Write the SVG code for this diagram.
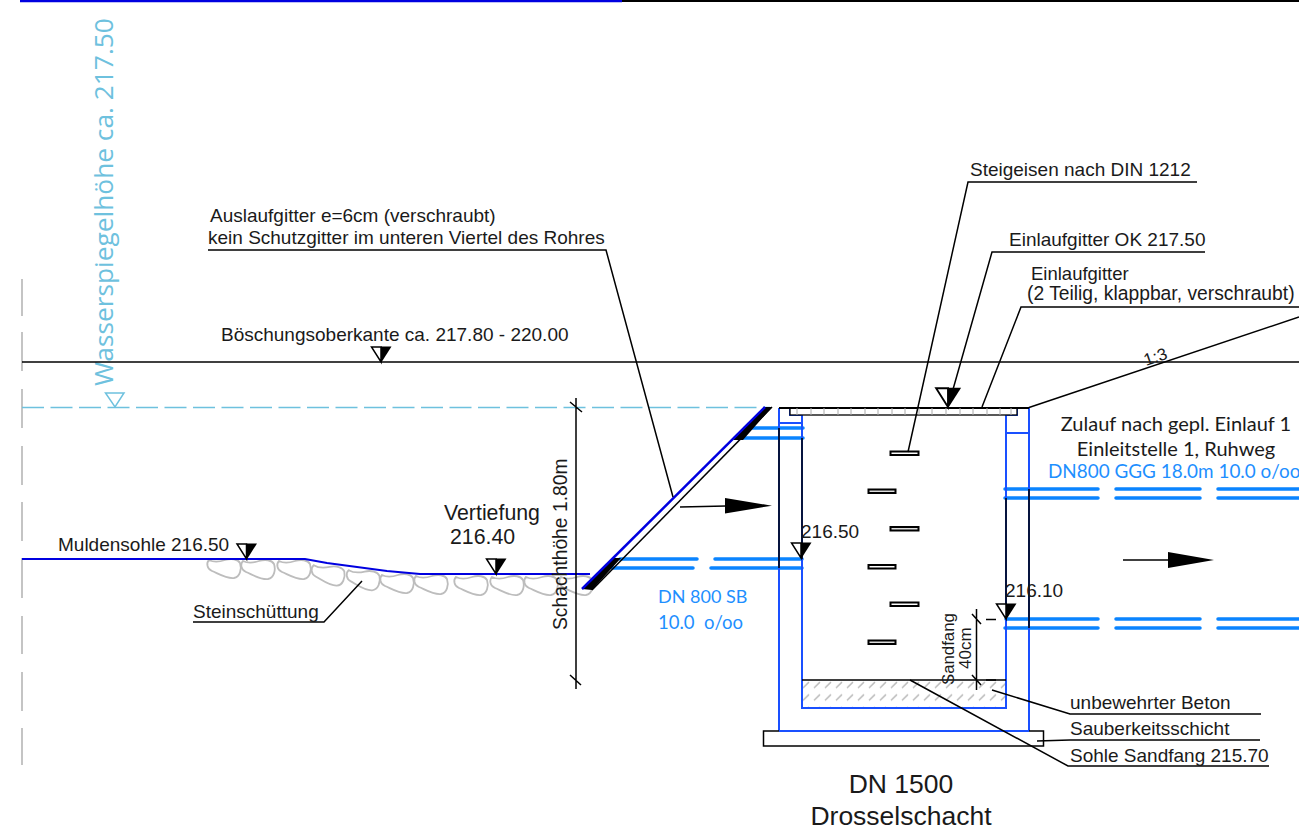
<svg xmlns="http://www.w3.org/2000/svg" width="1299" height="833" viewBox="0 0 1299 833">
<style>
text{font-family:"Liberation Sans",Arial,sans-serif;fill:#1a1a1a}
.l{font-family:Lato,"Noto Sans",sans-serif}
.pt{fill:#1e8fff}
.s{fill:none;stroke:#000;stroke-width:1.5}
.w{fill:none;stroke:#1a50ff;stroke-width:2}
.p{fill:none;stroke:#0a84ff;stroke-width:3.5;stroke-linecap:round}
.r{fill:#ddd;stroke:#000;stroke-width:2}
.st{fill:#fff;stroke:#bdbdbd;stroke-width:1.8}
.wh{fill:#fff;stroke:#000;stroke-width:1.5}
</style>
<defs>
<path id="stone" class="st" d="M2,2 C6,4 12,4 18,2 C24,0 31,1 33,5 C35,11 33,19 27,20 C20,21 12,16 5,13 C0,11 -1,5 2,2Z"/>
<g id="lvl"><path class="wh" d="M-9.500,-15 H0 V0Z"/><path d="M0,-15.500 H10.500 L0,1Z" fill="#000"/></g>
<pattern id="hatch" width="11" height="12.500" patternUnits="userSpaceOnUse" patternTransform="translate(802,680)"><path d="M1,8 L7,2" stroke="#bbb" stroke-width="1.500"/></pattern>
</defs>

<g id="frame">
<path d="M20,1 H622" stroke="#0000e0" stroke-width="2.500"/>
<path d="M622,1 H1299" stroke="#000" stroke-width="2"/>
<path d="M22,279V316M22,332V371M22,389V428M22,446V485M22,502V541M22,558V598M22,616V654M22,672V711M22,728V765" stroke="#c4c4c4" stroke-width="2" fill="none"/>
</g>

<g id="stones">
<use href="#stone" x="207" y="558"/>
<use href="#stone" x="241" y="559"/>
<use href="#stone" x="277" y="559"/>
<use href="#stone" transform="translate(312,563) rotate(6)"/>
<use href="#stone" transform="translate(347,568) rotate(5)"/>
<use href="#stone" transform="translate(380,573)"/>
<use href="#stone" x="414" y="574"/>
<use href="#stone" x="454" y="575"/>
<use href="#stone" x="490" y="575"/>
<use href="#stone" x="524" y="575"/>
<use href="#stone" x="559" y="575"/>
</g>

<g id="water-level">
<path d="M22,407.500 H770" stroke="#6ec1de" stroke-width="1.500" stroke-dasharray="22 6.500" fill="none"/>
<path d="M105.500,393 H124 L115,407Z" fill="none" stroke="#6ec1de" stroke-width="1.500"/>
<text transform="translate(113,386) rotate(-90)" font-size="26.300" style="fill:#6ec1de;font-family:'Open Sans',sans-serif">Wasserspiegelhöhe ca. 217.50</text>
</g>

<g id="ground">
<path d="M22,362 H1299" class="s"/>
<path d="M1029,407.500 L1299,317" class="s"/>
<path d="M22,559 H305 L327,563 L387,571 L420,574 H590" fill="none" stroke="#0000e0" stroke-width="1.800"/>
<text transform="translate(1146,366) rotate(-19)" font-size="17">1:3</text>
</g>

<g id="outlet-pipe">
<path class="p" d="M620,559H697M715,559H802M612,568H693M711,568H802M745,428H803M735,438H803"/>
</g>

<g id="inlet-pipe">
<path class="p" d="M1005,489H1098M1116,489H1200M1218,489H1299M1005,498H1098M1116,498H1200M1218,498H1299M1006,619H1098M1116,619H1200M1218,619H1299M1005,628H1098M1116,628H1200M1218,628H1299"/>
</g>

<g id="slope-grate">
<path d="M582,589 L592,590 L621,558 L613,558Z M733,440 L765,407 L772,407 L743,440Z" fill="#000"/>
<path d="M592,590 L772,407" class="s"/>
<path d="M582,589 L765,407" fill="none" stroke="#0000e0" stroke-width="2.500"/>
</g>

<g id="shaft">
<rect x="802" y="680" width="204" height="28" fill="url(#hatch)"/>
<path class="w" d="M779,408 V731 H1029 V408"/>
<path class="w" d="M790,408 V415 H802 V708 H1006 V415 H1017 V408"/>
<path class="w" d="M779,423 H802 M1006,433 H1029" stroke-width="1.500"/>
<path class="s" d="M779,428V568M802,438V559M1006,498V619M1029,489V628M802,680H1006"/>
<rect x="763.500" y="731" width="280" height="15" fill="#fff" stroke="#000" stroke-width="1.500"/>
<path class="w" d="M779,731H1029"/>
</g>

<g id="lid">
<rect x="790" y="408" width="227" height="7" fill="#fff" stroke="#000" stroke-width="1.300"/>
<path d="M779,408 H1029" stroke="#000" stroke-width="2"/>
<path d="M797,408v7M811,408v7M824,408v7M838,408v7M851,408v7M865,408v7M878,408v7M892,408v7M905,408v7M919,408v7M932,408v7M946,408v7M960,408v7M973,408v7M987,408v7M1000,408v7M1011,408v7" stroke="#aaa" stroke-width="1" fill="none"/>
</g>

<g id="rungs">
<rect class="r" x="890.500" y="451.500" width="28" height="3.500" style="fill:#fff"/>
<rect class="r" x="868.500" y="489.500" width="27" height="3.500"/>
<rect class="r" x="890.500" y="527" width="28" height="3.500"/>
<rect class="r" x="868.500" y="565" width="27" height="3.500" style="fill:#fff"/>
<rect class="r" x="890.500" y="602.500" width="28" height="3.500" style="fill:#fff"/>
<rect class="r" x="868.500" y="640.500" width="27" height="3.500"/>
</g>

<g id="connectors">
<path class="s" d="M1197,182 H968 L908,452"/>
<path class="s" d="M1205,252 H992 L948,407"/>
<path class="s" d="M1299,307 H1021 L982,407"/>
<path class="s" d="M208,250 H606 L673,497"/>
<path class="s" d="M193,622 H324 L362,581"/>
<path class="s" d="M1261,714 H1070 L992,690"/>
<path class="s" d="M1037,741 L1070,740 H1260"/>
<path class="s" d="M1269,766 H1068 L910,680"/>
<path class="s" d="M680,507 L726,506"/>
<path d="M725,498 L772,505.700 L725,513.500Z" fill="#000"/>
<path class="s" d="M1123,560 H1170"/>
<path d="M1168,552 L1214,560 L1168,568Z" fill="#000"/>
<path class="s" d="M576,398 V689 M570,402 L582,412 M570,675 L581,685"/>
<path class="s" d="M976.500,609 V690 M972,614 L981,624 M972,675 L981,685 M986,619.500 H996 M986,680 H996"/>
</g>

<g id="levels">
<use href="#lvl" x="381" y="362"/>
<use href="#lvl" transform="translate(948,407) scale(1.250)"/>
<use href="#lvl" x="246.500" y="559"/>
<use href="#lvl" x="496" y="574"/>
<use href="#lvl" x="801" y="558"/>
<use href="#lvl" x="1006" y="619"/>
</g>

<g id="labels">
<text x="970" y="176" font-size="19">Steigeisen nach DIN 1212</text>
<text x="1009" y="246" font-size="19">Einlaufgitter OK 217.50</text>
<text x="1031" y="280" font-size="18.500">Einlaufgitter</text>
<text x="1027" y="299.500" font-size="19.300">(2 Teilig, klappbar, verschraubt)</text>
<text x="210" y="222" font-size="19">Auslaufgitter e=6cm (verschraubt)</text>
<text x="208" y="244" font-size="19">kein Schutzgitter im unteren Viertel des Rohres</text>
<text x="221" y="341" font-size="19">Böschungsoberkante ca. 217.80 - 220.00</text>
<text x="58" y="551" font-size="19">Muldensohle 216.50</text>
<text x="444" y="520" font-size="21.300">Vertiefung</text>
<text x="450" y="544" font-size="21.300">216.40</text>
<text x="193" y="618" font-size="19">Steinschüttung</text>
<text transform="translate(567,630) rotate(-90)" font-size="19.300">Schachthöhe 1.80m</text>
<text x="801" y="538" font-size="19">216.50</text>
<text x="1005" y="597" font-size="19">216.10</text>
<text transform="translate(954,685) rotate(-90)" font-size="16.800">Sandfang</text>
<text transform="translate(971,669) rotate(-90)" font-size="17">40cm</text>
<text class="l pt" x="658" y="603" font-size="18">DN 800 SB</text>
<text class="l pt" x="658" y="629" font-size="18.500" xml:space="preserve">10.0  o/oo</text>
<text class="l" x="1176" y="431" font-size="20" text-anchor="middle">Zulauf nach gepl. Einlauf 1</text>
<text class="l" x="1176" y="456" font-size="20" text-anchor="middle">Einleitstelle 1, Ruhweg</text>
<text class="l pt" x="1048" y="478" font-size="18.900">DN800 GGG 18.0m 10.0 o/oo</text>
<text x="1070" y="709" font-size="19">unbewehrter Beton</text>
<text x="1070" y="735" font-size="19">Sauberkeitsschicht</text>
<text x="1070" y="762" font-size="19">Sohle Sandfang 215.70</text>
<text x="901" y="793" font-size="26.500" text-anchor="middle">DN 1500</text>
<text x="901" y="825" font-size="26.500" text-anchor="middle">Drosselschacht</text>
</g>
</svg>
